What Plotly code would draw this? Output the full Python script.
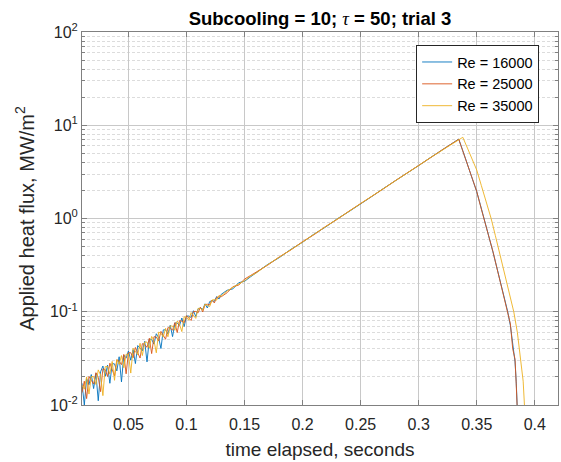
import plotly.graph_objects as go

# ---------------- data ----------------
t_rise_fine = [0.010, 0.012, 0.014, 0.016, 0.018, 0.020, 0.022, 0.024, 0.026, 0.028,
               0.030, 0.032, 0.034, 0.036, 0.038, 0.040, 0.042, 0.044, 0.046, 0.048,
               0.050, 0.052, 0.054, 0.056, 0.058, 0.060, 0.062, 0.064, 0.066, 0.068,
               0.070, 0.072, 0.074, 0.076, 0.078, 0.080, 0.082, 0.084, 0.086, 0.088,
               0.090, 0.092, 0.094, 0.096, 0.098, 0.100, 0.102, 0.104, 0.106, 0.108,
               0.110, 0.112, 0.114, 0.116, 0.118, 0.120, 0.122, 0.124, 0.126, 0.128,
               0.130]
t_rise_mid = [0.135, 0.140, 0.145, 0.150, 0.155]
t_rise_coarse = [0.16, 0.17, 0.18, 0.19, 0.20, 0.21, 0.22, 0.23, 0.24, 0.25,
                 0.26, 0.27, 0.28, 0.29, 0.30, 0.31, 0.32, 0.33]

q16_fine = [0.0171, 0.0100, 0.0192, 0.0165, 0.0212, 0.0150, 0.0218, 0.0111, 0.0227, 0.0262,
            0.0203, 0.0268, 0.0171, 0.0278, 0.0276, 0.0232, 0.0329, 0.0177, 0.0343, 0.0318,
            0.0380, 0.0302, 0.0392, 0.0278, 0.0434, 0.0407, 0.0381, 0.0482, 0.0290, 0.0509,
            0.0505, 0.0450, 0.0581, 0.0528, 0.0403, 0.0639, 0.0640, 0.0577, 0.0716, 0.0541,
            0.0758, 0.0758, 0.0712, 0.0857, 0.0694, 0.0899, 0.0899, 0.0869, 0.1026, 0.0888,
            0.1076, 0.1096, 0.1061, 0.1217, 0.1097, 0.1288, 0.1311, 0.1295, 0.1455, 0.1368,
            0.1540]
q25_fine = [0.0136, 0.0180, 0.0117, 0.0202, 0.0184, 0.0168, 0.0222, 0.0198, 0.0139, 0.0244,
            0.0240, 0.0202, 0.0281, 0.0240, 0.0205, 0.0306, 0.0295, 0.0271, 0.0349, 0.0216,
            0.0363, 0.0364, 0.0320, 0.0414, 0.0369, 0.0319, 0.0455, 0.0447, 0.0415, 0.0519,
            0.0356, 0.0540, 0.0535, 0.0485, 0.0616, 0.0564, 0.0507, 0.0677, 0.0664, 0.0635,
            0.0765, 0.0598, 0.0802, 0.0794, 0.0760, 0.0907, 0.0855, 0.0805, 0.1007, 0.1007,
            0.0974, 0.1117, 0.0995, 0.1194, 0.1204, 0.1188, 0.1336, 0.1242, 0.1428, 0.1440,
            0.1450]
q35_fine = [0.0163, 0.0148, 0.0200, 0.0131, 0.0202, 0.0202, 0.0166, 0.0238, 0.0210, 0.0126,
            0.0258, 0.0259, 0.0215, 0.0293, 0.0184, 0.0306, 0.0273, 0.0339, 0.0251, 0.0350,
            0.0350, 0.0220, 0.0406, 0.0377, 0.0346, 0.0459, 0.0339, 0.0473, 0.0473, 0.0407,
            0.0544, 0.0490, 0.0363, 0.0604, 0.0588, 0.0535, 0.0664, 0.0539, 0.0703, 0.0703,
            0.0632, 0.0795, 0.0734, 0.0613, 0.0882, 0.0873, 0.0811, 0.0979, 0.0912, 0.0849,
            0.1087, 0.1085, 0.1039, 0.1205, 0.1168, 0.1139, 0.1336, 0.1348, 0.1331, 0.1498,
            0.1480]

q16_mid = [0.170, 0.176, 0.205, 0.212, 0.236]
q25_mid = [0.160, 0.186, 0.193, 0.224, 0.244]
q35_mid = [0.167, 0.183, 0.199, 0.215, 0.241]

q16_coarse = [0.262, 0.322, 0.381, 0.468, 0.556, 0.683, 0.812, 0.995, 1.187, 1.450,
              1.735, 2.112, 2.530, 3.080, 3.695, 4.490, 5.390, 6.540]
q25_coarse = [0.266, 0.316, 0.388, 0.461, 0.565, 0.672, 0.824, 0.982, 1.200, 1.436,
              1.750, 2.096, 2.552, 3.060, 3.715, 4.470, 5.420, 6.520]
q35_coarse = [0.260, 0.320, 0.383, 0.466, 0.558, 0.680, 0.815, 0.990, 1.192, 1.445,
              1.738, 2.108, 2.545, 3.072, 3.700, 4.480, 5.400, 6.400]

t16_fall = [0.3345, 0.338, 0.342, 0.346, 0.350, 0.353, 0.3564, 0.360, 0.364, 0.368,
            0.372, 0.3767, 0.379, 0.381, 0.383, 0.384, 0.3848, 0.3855]
q16_fall = [7.10, 5.32, 3.82, 2.74, 1.94, 1.42, 1.00, 0.676, 0.437, 0.275,
            0.174, 0.100, 0.071, 0.046, 0.0290, 0.0180, 0.0100, 0.0060]
t25_fall = [0.3345, 0.338, 0.342, 0.346, 0.350, 0.353, 0.3564, 0.360, 0.364, 0.368,
            0.372, 0.3767, 0.379, 0.381, 0.383, 0.384, 0.3845, 0.3855]
q25_fall = [7.08, 5.30, 3.85, 2.72, 1.95, 1.40, 1.00, 0.670, 0.440, 0.270,
            0.178, 0.098, 0.074, 0.040, 0.0310, 0.0170, 0.0110, 0.0060]
t35_fall = [0.338, 0.342, 0.346, 0.350, 0.354, 0.358, 0.3624, 0.366, 0.370, 0.374,
            0.378, 0.3819, 0.385, 0.388, 0.390, 0.3911, 0.3918]
q35_fall = [7.43, 5.69, 4.36, 3.31, 2.25, 1.53, 1.00, 0.660, 0.412, 0.257,
            0.160, 0.100, 0.060, 0.0316, 0.0180, 0.0100, 0.0060]

series_names = ["Re = 16000", "Re = 25000", "Re = 35000"]
series_colors = ["#0072BD", "#D95319", "#EDB120"]

x_tick_vals = [0.05, 0.1, 0.15, 0.2, 0.25, 0.3, 0.35, 0.4]
x_tick_text = ["0.05", "0.1", "0.15", "0.2", "0.25", "0.3", "0.35", "0.4"]
y_tick_vals = [0.01, 0.1, 1, 10, 100]
y_tick_text = ["10<sup>-2</sup>", "10<sup>-1</sup>", "10<sup>0</sup>", "10<sup>1</sup>", "10<sup>2</sup>"]
y_minor_vals = [m * d for d in (0.01, 0.1, 1, 10) for m in range(2, 10)]

# ---------------- figure ----------------
FONT = "Liberation Sans, Arial, sans-serif"
AX = "#262626"

t_rise = t_rise_fine + t_rise_mid + t_rise_coarse
series = [
    (t_rise + t16_fall, q16_fine + q16_mid + q16_coarse + q16_fall),
    (t_rise + t25_fall, q25_fine + q25_mid + q25_coarse + q25_fall),
    (t_rise + t35_fall, q35_fine + q35_mid + q35_coarse + q35_fall),
]

fig = go.Figure()
for (tx, qy), name, col in zip(series, series_names, series_colors):
    fig.add_trace(go.Scatter(x=tx, y=qy, mode="lines", name=name,
                             line=dict(color=col, width=0.9)))

fig.update_layout(
    width=561, height=462,
    margin=dict(l=82, r=3, t=32, b=57),
    paper_bgcolor="white", plot_bgcolor="white",
    font=dict(family=FONT, color=AX, size=16),
    title=dict(
        text="<b>Subcooling = 10; </b><span style='font-family:Liberation Serif'><i>τ</i></span><b> = 50; trial 3</b>",
        x=0.5, xref="paper", xanchor="center",
        y=1 - 19 / 462, yref="container", yanchor="middle",
        font=dict(family=FONT, size=18.5, color="black"),
    ),
    showlegend=True,
    legend=dict(
        x=0.702, y=0.965, xanchor="left", yanchor="top",
        bgcolor="white", bordercolor=AX, borderwidth=1,
        font=dict(family=FONT, size=14.5, color="black"),
        tracegroupgap=0, itemwidth=30,
    ),
)

fig.update_xaxes(
    range=[0.01, 0.42],
    tickmode="array", tickvals=x_tick_vals, ticktext=x_tick_text,
    showgrid=True, gridcolor="#c8c8c8", gridwidth=1,
    zeroline=False,
    showline=True, linecolor="#808080", linewidth=1, mirror="ticks",
    ticks="inside", ticklen=5, tickcolor="#808080",
    tickfont=dict(size=16, color=AX), ticklabelstandoff=5,
    title=dict(text="time elapsed, seconds", font=dict(size=19, color=AX), standoff=10),
)

fig.update_yaxes(
    type="log", range=[-2, 2],
    tickmode="array", tickvals=y_tick_vals, ticktext=y_tick_text,
    showgrid=True, gridcolor="#c8c8c8", gridwidth=1,
    zeroline=False,
    showline=True, linecolor="#808080", linewidth=1, mirror="ticks",
    ticks="inside", ticklen=5, tickcolor="#808080",
    tickfont=dict(size=16, color=AX),
    minor=dict(tickmode="array", tickvals=y_minor_vals, showgrid=True,
               gridcolor="#dcdcdc", griddash="3px,2px", gridwidth=1,
               ticks="inside", ticklen=3, tickcolor="#808080"),
    title=dict(text="Applied heat flux, MW/m<sup>2</sup>", font=dict(size=20, color=AX), standoff=10),
)

fig.write_html("out.html")
